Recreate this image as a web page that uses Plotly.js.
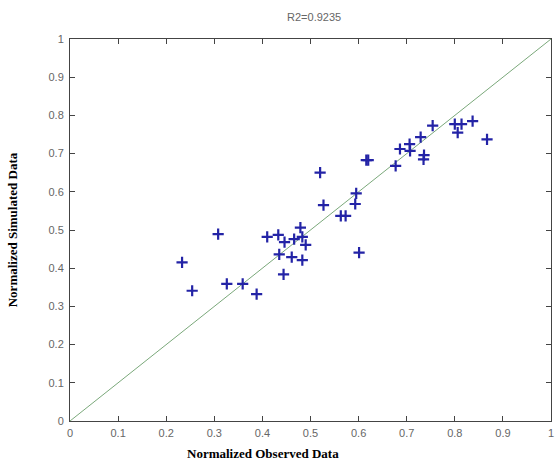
<!DOCTYPE html>
<html>
<head>
<meta charset="utf-8">
<script src="https://cdn.plot.ly/plotly-3.0.1.min.js"></script>
<style>html,body{margin:0;padding:0;background:#fff;}#chart{width:556px;height:460px;}</style>
</head>
<body>
<div id="chart"></div>
<script>
// Normalized observed (x) and simulated (y) values
var observed = [0.233, 0.254, 0.308, 0.326, 0.359, 0.388, 0.410, 0.433, 0.446, 0.466,
                0.479, 0.483, 0.490, 0.435, 0.461, 0.483, 0.444, 0.520, 0.527, 0.563,
                0.573, 0.593, 0.595, 0.601, 0.616, 0.620, 0.677, 0.686, 0.706, 0.707,
                0.729, 0.735, 0.736, 0.754, 0.800, 0.806, 0.814, 0.837, 0.867];
var simulated = [0.415, 0.341, 0.489, 0.359, 0.359, 0.332, 0.482, 0.487, 0.468, 0.476,
                 0.506, 0.482, 0.461, 0.436, 0.429, 0.421, 0.384, 0.650, 0.565, 0.537,
                 0.537, 0.568, 0.596, 0.441, 0.683, 0.683, 0.668, 0.712, 0.725, 0.707,
                 0.743, 0.685, 0.696, 0.773, 0.777, 0.755, 0.777, 0.785, 0.737];
var lineX = [0, 1];
var lineY = [0, 1];
var tickVals = [0, 0.1, 0.2, 0.3, 0.4, 0.5, 0.6, 0.7, 0.8, 0.9, 1];
var tickText = ["0", "0.1", "0.2", "0.3", "0.4", "0.5", "0.6", "0.7", "0.8", "0.9", "1"];

var traces = [
  {x: lineX, y: lineY, mode: 'lines', type: 'scatter',
   line: {color: '#7aa87a', width: 1}, hoverinfo: 'skip', showlegend: false},
  {x: observed, y: simulated, mode: 'markers', type: 'scatter',
   marker: {symbol: 'cross-thin', size: 8, line: {color: '#2323a6', width: 2.2}},
   showlegend: false}
];

var axisCommon = {
  range: [0, 1], tickvals: tickVals, ticktext: tickText,
  ticks: 'inside', ticklen: 5, tickwidth: 1, tickcolor: '#444',
  showline: true, linecolor: '#444', linewidth: 1, mirror: 'ticks',
  showgrid: false, zeroline: false, ticklabeloverflow: 'allow',
  tickfont: {family: 'Liberation Sans, Arial, sans-serif', size: 11, color: '#666'}
};

var layout = {
  width: 556, height: 460,
  margin: {l: 70, r: 5, t: 39, b: 39},
  paper_bgcolor: '#fff', plot_bgcolor: '#fff',
  xaxis: Object.assign({}, axisCommon, {ticklabelstandoff: 2}),
  yaxis: Object.assign({}, axisCommon, {ticklabelstandoff: 3}),
  title: {text: 'R2=0.9235', font: {family: 'Liberation Sans, Arial, sans-serif', size: 11, color: '#666'},
          x: 0.565, xanchor: 'center', y: 0.962, yanchor: 'middle'},
  annotations: [
    {text: '<b>Normalized Observed Data</b>', xref: 'paper', yref: 'paper',
     x: (263 - 70) / 481, y: -0.085, xanchor: 'center', yanchor: 'middle', showarrow: false,
     font: {family: 'Liberation Serif, Times New Roman, serif', size: 13, color: '#000'}},
    {text: '<b>Normalized Simulated Data</b>', xref: 'paper', yref: 'paper',
     x: -0.12, y: 0.5, xanchor: 'center', yanchor: 'middle', textangle: -90, showarrow: false,
     font: {family: 'Liberation Serif, Times New Roman, serif', size: 13, color: '#000'}}
  ]
};

Plotly.newPlot('chart', traces, layout, {displayModeBar: false, staticPlot: true});
</script>
</body>
</html>
